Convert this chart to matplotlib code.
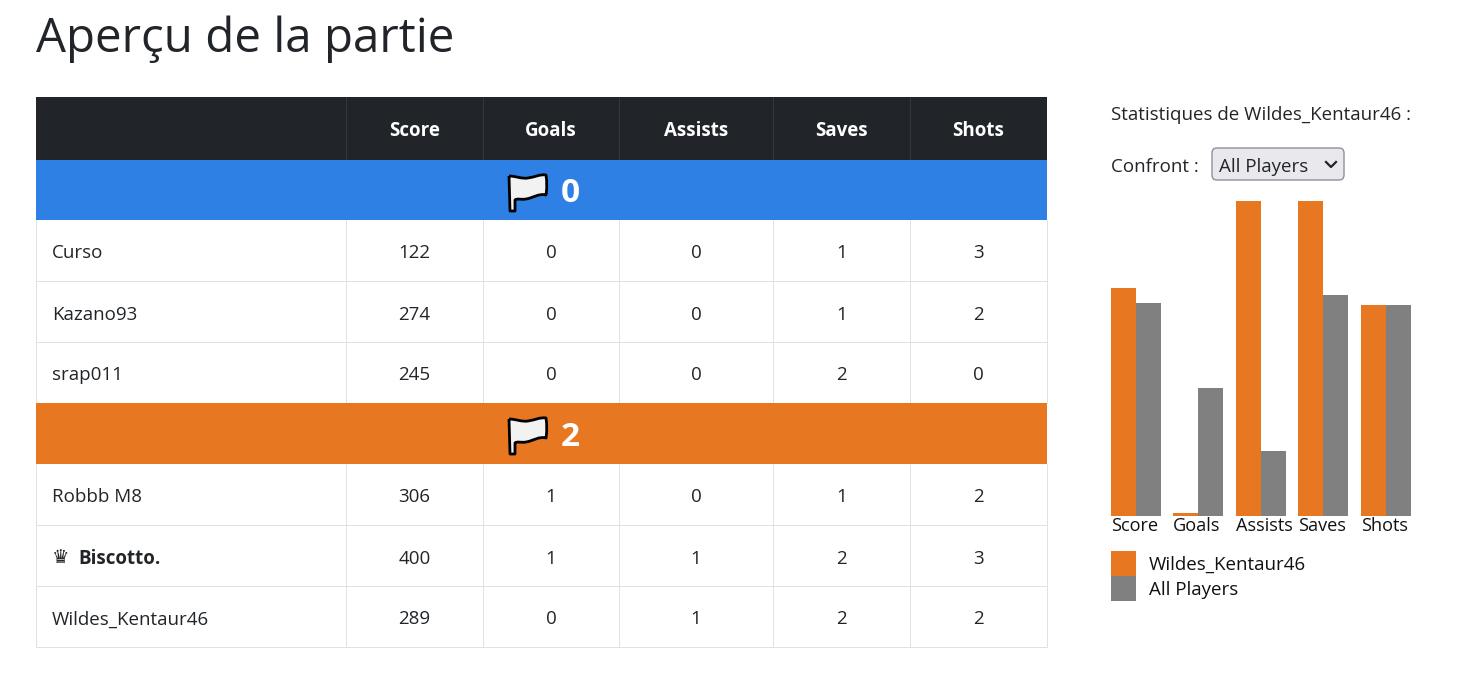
import matplotlib
matplotlib.use("Agg")
import matplotlib.pyplot as plt
from matplotlib.patches import Rectangle, FancyBboxPatch, PathPatch
from matplotlib.path import Path

plt.rcParams['font.family'] = ['Open Sans', 'DejaVu Sans']

title = "Aperçu de la partie"
columns = ["Score", "Goals", "Assists", "Saves", "Shots"]
team_blue_score = "0"
team_orange_score = "2"
blue_players = ["Curso", "Kazano93", "srap011"]
blue_stats = [[122, 0, 0, 1, 3], [274, 0, 0, 1, 2], [245, 0, 0, 2, 0]]
orange_players = ["Robbb M8", "Biscotto.", "Wildes_Kentaur46"]
orange_stats = [[306, 1, 0, 1, 2], [400, 1, 1, 2, 3], [289, 0, 1, 2, 2]]
mvp_player = "Biscotto."

player_name = "Wildes_Kentaur46"
compare_name = "All Players"
player_values = [0.724, 0.01, 1.0, 1.0, 0.67]
compare_values = [0.676, 0.406, 0.206, 0.702, 0.67]

DARK = "#212529"
BORDER = "#dee2e6"
BLUE = "#2f80e4"
ORANGE = "#e87722"
GREY = "#808080"
W, H = 1457, 675
FS = 13.5

fig = plt.figure(figsize=(W / 100, H / 100), dpi=100, facecolor="white")
page = fig.add_axes([0, 0, 1, 1])
page.set_xlim(0, W)
page.set_ylim(H, 0)
page.axis("off")

page.text(36, 39, title, fontsize=34.2, color=DARK, va="center", ha="left")

col_x = [36, 346, 483, 619, 773, 910, 1047]


def flag(x, y):
    M, L, C = Path.MOVETO, Path.LINETO, Path.CURVE4
    verts = [(x + 1, y + 3), (x + 8, y + 3), (x + 13, y + 6), (x + 20, y + 5),
             (x + 27, y + 4), (x + 32, y + 1), (x + 38, y + 2),
             (x + 39, y + 9), (x + 39, y + 16), (x + 38, y + 22),
             (x + 31, y + 20), (x + 25, y + 25), (x + 18, y + 26),
             (x + 13, y + 27), (x + 9, y + 25), (x + 7, y + 27),
             (x + 7, y + 38), (x + 2, y + 38), (x + 1, y + 3)]
    codes = [M, C, C, C, C, C, C, C, C, C, C, C, C, C, C, C, L, L, L]
    page.add_patch(PathPatch(Path(verts, codes), fc="#f2f2f2", ec="black", lw=2, zorder=4,
                             joinstyle="round"))


def band(y0, y1, color, score, dy):
    page.add_patch(Rectangle((36, y0), 1011, y1 - y0, fc=color, ec="none", zorder=3.5))
    flag(508, y0 + 13)
    page.text(570, (y0 + y1) / 2 + dy, score, color="white", fontsize=24, fontweight="bold",
              ha="center", va="center", zorder=4)


def row(y0, y1, name, stats):
    cy = (y0 + y1) / 2 + 3
    if name == mvp_player:
        page.text(52, cy - 1, "♛", fontsize=14, color=DARK, ha="left", va="center",
                  family="DejaVu Sans", fontweight="bold", zorder=4)
        page.text(78, cy, name, fontsize=FS, fontweight="bold", color=DARK, ha="left",
                  va="center", zorder=4)
    else:
        page.text(52, cy, name, fontsize=FS, color=DARK, ha="left", va="center", zorder=4)
    for i, v in enumerate(stats):
        page.text((col_x[i + 1] + col_x[i + 2]) / 2, cy, str(v), fontsize=FS, color=DARK,
                  ha="center", va="center", zorder=4)
    for x in col_x:
        page.plot([x, x], [y0, y1], color=BORDER, lw=0.72, zorder=3, solid_capstyle="butt")
    page.plot([36, 1047], [y1, y1], color=BORDER, lw=0.72, zorder=3, solid_capstyle="butt")


page.add_patch(Rectangle((36, 97), 1011, 63, fc=DARK, ec="none", zorder=2))
for x in col_x[1:-1]:
    page.plot([x, x], [97, 160], color="#32383e", lw=0.72, zorder=3)
for i, c in enumerate(columns):
    page.text((col_x[i + 1] + col_x[i + 2]) / 2, 131, c, color="white", fontsize=FS,
              fontweight="bold", ha="center", va="center", zorder=4)

band(160, 220, BLUE, team_blue_score, 3)
y = 220
for n, s in zip(blue_players, blue_stats):
    row(y, y + 61, n, s)
    y += 61
band(403, 464, ORANGE, team_orange_score, 4)
y = 464
for n, s in zip(orange_players, orange_stats):
    row(y, y + 61, n, s)
    y += 61

page.text(1111, 115, f"Statistiques de {player_name} :", fontsize=FS, color=DARK, ha="left", va="center")
page.text(1111, 167, "Confront :", fontsize=FS, color=DARK, ha="left", va="center")
page.add_patch(FancyBboxPatch((1215, 151), 126, 26, boxstyle="round,pad=3,rounding_size=5",
                              fc="#e9e9ed", ec="#8f8f9d", lw=1))
page.text(1219, 167, compare_name, fontsize=FS, color=DARK, ha="left", va="center")
page.plot([1326, 1331, 1336], [162, 167, 162], color=DARK, lw=1.6)

# bar chart: x 1111-1411, y 201-516
bars = fig.add_axes([1110.6 / W, 1 - 516 / H, 300 / W, 315 / H])
xs = list(range(len(columns)))
bw = 0.4
bars.bar([x - bw / 2 for x in xs], player_values, width=bw, color=ORANGE)
bars.bar([x + bw / 2 for x in xs], compare_values, width=bw, color=GREY)
bars.set_xlim(-0.4, 4.4)
bars.set_ylim(0, 1)
for s in bars.spines.values():
    s.set_visible(False)
bars.set_yticks([])
bars.set_xticks([x - 0.4 for x in xs])
bars.set_xticklabels(columns, ha="left", fontsize=13.1, color="#111111")
bars.tick_params(axis="x", length=0, pad=1)
bars.patch.set_alpha(0)

# legend
page.add_patch(Rectangle((1111, 551), 25, 25, fc=ORANGE, ec="none"))
page.add_patch(Rectangle((1111, 576), 25, 25, fc=GREY, ec="none"))
page.text(1149, 565, player_name, fontsize=FS, color="#111111", ha="left", va="center")
page.text(1149, 590, compare_name, fontsize=FS, color="#111111", ha="left", va="center")

fig.savefig("out.png", dpi=100)
